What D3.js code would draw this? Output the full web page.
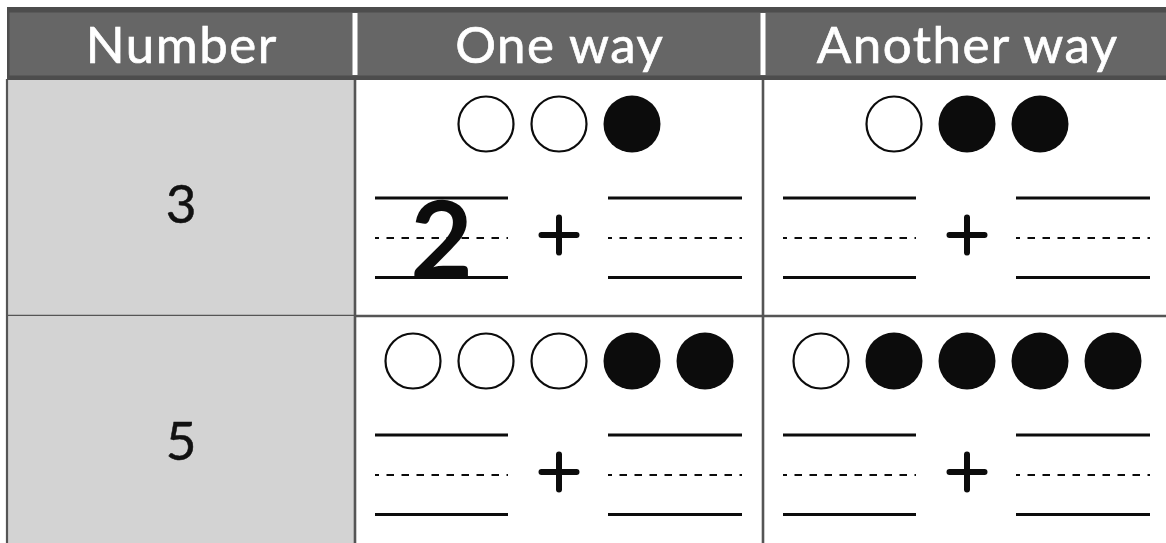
<!DOCTYPE html>
<html>
<head>
<meta charset="utf-8">
<script src="https://cdn.jsdelivr.net/npm/d3@7"></script>
<style>
  html, body { margin: 0; padding: 0; background: #ffffff; }
  svg { display: block; }
</style>
</head>
<body>
<svg id="chart" width="1166" height="543"></svg>
<script>
// ---------- data ----------
const columns = ["Number", "One way", "Another way"];
const numbers = [3, 5];
const oneWayOpen = [2, 3];
const oneWayFilled = [1, 2];
const anotherOpen = [1, 1];
const anotherFilled = [2, 4];
// written answers in the blanks: [row][way][blank]
const answers = [[["2", ""], ["", ""]], [["", ""], ["", ""]]];

// ---------- layout ----------
const W = 1166, H = 543;
const colEdges = [7, 355, 763, 1171];
const headerTop = 7, headerBottom = 79;
const rowHeight = 237;
const FONT = "Lato, 'Open Sans', 'DejaVu Sans', sans-serif";

const svg = d3.select("#chart");

const colX = d3.scaleOrdinal().domain(columns).range(colEdges.slice(0, 3));
const colW = d3.scaleOrdinal().domain(columns).range(colEdges.slice(1).map((e, i) => e - colEdges[i]));
const rowY = d3.scaleBand().domain(d3.range(numbers.length))
  .range([headerBottom, headerBottom + rowHeight * numbers.length]).padding(0);

// body cells
const rows = svg.append("g");
numbers.forEach((n, r) => {
  const y0 = rowY(r);
  rows.append("rect")
    .attr("x", colX(columns[0])).attr("y", y0)
    .attr("width", colW(columns[0])).attr("height", rowY.bandwidth())
    .attr("fill", "#d3d3d3");
  rows.append("text")
    .attr("x", colX(columns[0]) + colW(columns[0]) / 2)
    .attr("y", y0 + 144)
    .attr("text-anchor", "middle")
    .attr("font-family", FONT)
    .attr("font-size", 53)
    .attr("fill", "#111")
    .attr("stroke", "#111").attr("stroke-width", 0.5)
    .text(n);

  const ways = [
    { col: columns[1], open: oneWayOpen[r], filled: oneWayFilled[r] },
    { col: columns[2], open: anotherOpen[r], filled: anotherFilled[r] }
  ];
  ways.forEach((w, wi) => {
    const cx = colX(w.col) + colW(w.col) / 2;
    const total = w.open + w.filled;
    const dots = d3.range(total).map(i => i < w.open ? "open" : "filled");
    const dx = d3.scaleLinear().domain([0, total - 1]).range([-(total - 1) * 36.5, (total - 1) * 36.5]);
    rows.selectAll(null).data(dots).enter().append("circle")
      .attr("cx", (d, i) => cx + (total > 1 ? dx(i) : 0))
      .attr("cy", y0 + 45)
      .attr("r", d => d === "open" ? 27.5 : 28.5)
      .attr("fill", d => d === "open" ? "#fff" : "#0c0c0c")
      .attr("stroke", d => d === "open" ? "#0c0c0c" : "none")
      .attr("stroke-width", 2.2);

    [[-184, -51], [49, 183]].forEach((seg, bi) => {
      const x1 = cx + seg[0], x2 = cx + seg[1];
      [119, 198.5].forEach(o => {
        rows.append("line").attr("x1", x1).attr("x2", x2)
          .attr("y1", y0 + o).attr("y2", y0 + o)
          .attr("stroke", "#0c0c0c").attr("stroke-width", 3);
      });
      rows.append("line").attr("x1", x1).attr("x2", x2)
        .attr("y1", y0 + 159).attr("y2", y0 + 159)
        .attr("stroke", "#0c0c0c").attr("stroke-width", 2.2)
        .attr("stroke-dasharray", "7.5,7.5").attr("stroke-dashoffset", 3.5);
      const ans = answers[r][wi][bi];
      if (ans) {
        rows.append("text")
          .attr("x", (x1 + x2) / 2).attr("y", y0 + 199)
          .attr("text-anchor", "middle")
          .attr("font-family", FONT).attr("font-weight", "bold")
          .attr("font-size", 108).attr("fill", "#0c0c0c")
          .text(ans);
      }
    });
    const py = y0 + 156;
    rows.append("path")
      .attr("d", `M${cx - 17.5},${py}H${cx + 17.5}M${cx},${py - 17.5}V${py + 17.5}`)
      .attr("stroke", "#0c0c0c").attr("stroke-width", 6)
      .attr("stroke-linecap", "round").attr("fill", "none");
  });

  rows.append("line")
    .attr("x1", colEdges[0]).attr("x2", W + 10)
    .attr("y1", y0 + rowY.bandwidth()).attr("y2", y0 + rowY.bandwidth())
    .attr("stroke", "#555").attr("stroke-width", 2.5);
});

svg.selectAll(null).data(colEdges.slice(0, 3)).enter().append("line")
  .attr("x1", d => d).attr("x2", d => d)
  .attr("y1", headerBottom).attr("y2", H + 10)
  .attr("stroke", "#555").attr("stroke-width", (d, i) => i === 0 ? 2.2 : 2.6);

// header
const header = svg.append("g");
header.append("rect")
  .attr("x", colEdges[0]).attr("y", headerTop)
  .attr("width", W + 10 - colEdges[0]).attr("height", headerBottom - headerTop)
  .attr("fill", "#666666");
header.append("rect")
  .attr("x", colEdges[0]).attr("y", headerTop)
  .attr("width", W + 10 - colEdges[0]).attr("height", 5.5)
  .attr("fill", "#4d4d4d");
header.append("rect")
  .attr("x", colEdges[0]).attr("y", headerBottom - 3.5)
  .attr("width", W + 10 - colEdges[0]).attr("height", 4.5)
  .attr("fill", "#4d4d4d");
header.append("rect")
  .attr("x", colEdges[0]).attr("y", headerTop)
  .attr("width", 2.5).attr("height", headerBottom - headerTop)
  .attr("fill", "#4d4d4d");
header.selectAll(null).data(colEdges.slice(1, 3)).enter().append("rect")
  .attr("x", d => d - 2.5).attr("y", headerTop + 6)
  .attr("width", 5).attr("height", headerBottom - headerTop - 10)
  .attr("fill", "#ffffff");
header.selectAll(null).data(columns).enter().append("text")
  .attr("x", d => colX(d) + colW(d) / 2 + 0.75)
  .attr("y", 63)
  .attr("text-anchor", "middle")
  .attr("font-family", FONT)
  .attr("font-size", 51)
  .attr("letter-spacing", 1.5)
  .attr("fill", "#ffffff")
  .attr("stroke", "#ffffff").attr("stroke-width", 0.7)
  .text(d => d);
</script>
</body>
</html>
